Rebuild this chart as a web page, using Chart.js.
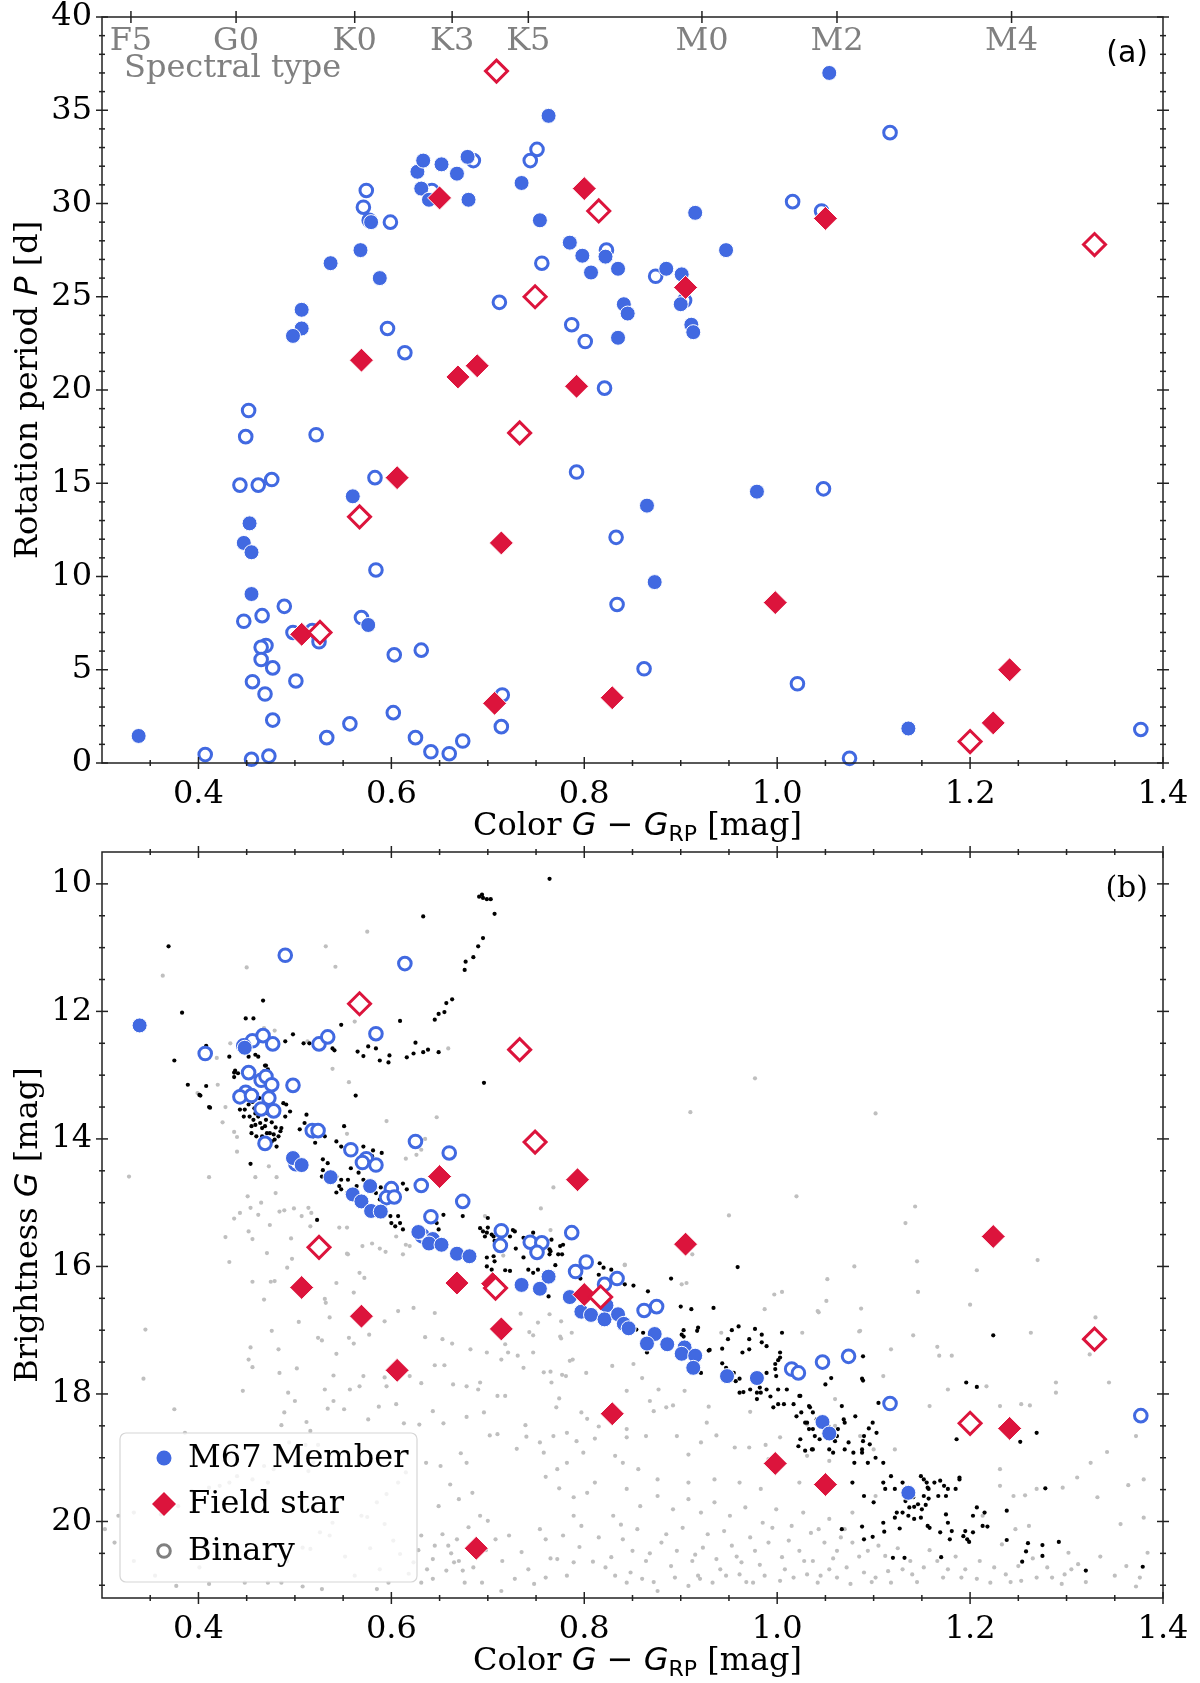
<!DOCTYPE html>
<html>
<head>
<meta charset="utf-8">
<script src="https://cdn.jsdelivr.net/npm/chart.js@4"></script>
<style>
  html, body { margin: 0; padding: 0; background: #fff; }
  #wrap { position: relative; width: 1200px; height: 1683px; }
  canvas { position: absolute; left: 0; }
  #rotChart { top: 0; }
  #cmdChart { top: 845px; }
</style>
</head>
<body>
<div id="wrap">
  <canvas id="rotChart" width="1200" height="845"></canvas>
  <canvas id="cmdChart" width="1200" height="838"></canvas>
</div>
<script>
// ---- axis ticks / labels ----
const colorTicks  = [0.4, 0.6, 0.8, 1.0, 1.2, 1.4];
const periodTicks = [0, 5, 10, 15, 20, 25, 30, 35, 40];
const magTicks    = [10, 12, 14, 16, 18, 20];
const spectralTypes  = ['F5', 'G0', 'K0', 'K3', 'K5', 'M0', 'M2', 'M4'];
const spectralColors = [0.330, 0.439, 0.562, 0.663, 0.742, 0.922, 1.062, 1.243];
const legendLabels = ['M67 Member', 'Field star', 'Binary'];

// ---- panel (a): colour vs rotation period ----
const rotMember = [
  [0.338,1.45],[1.054,37.0],[0.763,34.7],[0.627,31.7],[0.633,32.3],[0.652,32.1],[0.668,31.6],
  [0.679,32.5],[0.680,30.2],[0.631,30.8],[0.639,30.2],[0.735,31.1],[0.754,29.1],[0.579,29.0],
  [0.568,27.5],[0.537,26.8],[0.588,26.0],[0.507,24.3],[0.507,23.3],[0.498,22.9],[0.785,27.9],
  [0.798,27.2],[0.807,26.3],[0.822,27.15],[0.835,26.5],[0.885,26.5],[0.901,26.2],[0.900,24.6],
  [0.841,24.6],[0.845,24.1],[0.911,23.5],[0.913,23.1],[0.835,22.8],[0.915,29.5],[0.947,27.5],
  [0.560,14.3],[0.453,12.85],[0.447,11.8],[0.455,11.3],[0.455,9.06],[0.576,7.4],[0.865,13.8],
  [0.979,14.55],[0.873,9.7],[1.136,1.85]
];
const rotBinary = [
  [0.685,32.3],[0.642,30.7],[0.744,32.3],[0.751,32.9],[0.756,26.8],[0.712,24.7],[0.574,30.7],
  [0.571,29.8],[0.577,29.1],[0.599,29.0],[0.596,23.3],[0.614,22.0],[0.821,20.1],[0.452,18.9],
  [0.787,23.5],[0.801,22.6],[1.117,33.8],[1.016,30.1],[1.046,29.6],[0.823,27.5],[0.874,26.1],
  [0.904,24.8],[0.449,17.5],[0.522,17.6],[0.443,14.9],[0.462,14.9],[0.476,15.2],[0.583,15.3],
  [0.792,15.6],[0.584,10.35],[0.489,8.4],[0.466,7.9],[0.447,7.6],[0.569,7.8],[0.498,7.0],
  [0.518,7.1],[0.525,6.5],[0.470,6.3],[0.465,6.2],[0.465,5.55],[0.477,5.1],[0.603,5.8],
  [0.631,6.05],[0.456,4.36],[0.501,4.4],[0.469,3.7],[0.715,3.65],[0.477,2.3],[0.602,2.7],
  [0.714,1.95],[0.557,2.1],[0.533,1.36],[0.625,1.36],[0.674,1.18],[0.641,0.6],[0.660,0.5],
  [0.407,0.45],[0.455,0.2],[0.473,0.37],[0.833,12.1],[1.048,14.7],[0.834,8.5],[0.862,5.05],
  [1.021,4.25],[1.075,0.25],[1.377,1.8]
];
const rotField = [
  [0.650,30.3],[0.800,30.8],[1.050,29.2],[0.905,25.5],[0.569,21.6],[0.669,20.7],[0.689,21.3],
  [0.792,20.2],[0.606,15.3],[0.714,11.8],[0.507,6.9],[0.707,3.2],[0.998,8.6],[0.829,3.5],
  [1.241,5.0],[1.224,2.15]
];
const rotFieldBinary = [
  [0.709,37.1],[0.749,25.0],[0.815,29.6],[1.329,27.8],[0.733,17.7],[0.567,13.2],[0.526,7.0],[1.200,1.15]
];

// ---- panel (b): colour vs G magnitude ----
const cmdMember = [
  [0.339,12.22],[0.448,12.57],[0.498,14.30],[0.507,14.41],[0.537,14.60],[0.560,14.87],[0.569,14.98],
  [0.578,14.74],[0.579,15.13],[0.589,15.14],[0.628,15.46],[0.643,15.57],[0.639,15.64],[0.652,15.66],
  [0.668,15.80],[0.681,15.84],[0.735,16.29],[0.754,16.35],[0.763,16.16],[0.785,16.48],[0.823,16.61],
  [0.797,16.71],[0.807,16.76],[0.821,16.83],[0.835,16.75],[0.841,16.90],[0.846,16.97],[0.873,17.06],
  [0.865,17.21],[0.886,17.22],[0.904,17.27],[0.901,17.37],[0.915,17.40],[0.913,17.59],[0.948,17.72],
  [0.979,17.75],[1.047,18.44],[1.054,18.62],[1.136,19.55]
];
const cmdBinary = [
  [0.490,11.12],[0.614,11.25],[0.407,12.66],[0.456,12.46],[0.467,12.38],[0.477,12.51],[0.447,12.54],
  [0.525,12.51],[0.534,12.40],[0.584,12.35],[0.452,12.96],[0.465,13.08],[0.470,13.02],[0.476,13.15],
  [0.498,13.16],[0.449,13.27],[0.443,13.34],[0.455,13.32],[0.473,13.36],[0.465,13.53],[0.478,13.56],
  [0.518,13.87],[0.524,13.87],[0.469,14.07],[0.501,14.39],[0.558,14.17],[0.574,14.31],[0.570,14.37],
  [0.584,14.41],[0.625,14.04],[0.660,14.22],[0.600,14.78],[0.595,14.92],[0.603,14.91],[0.631,14.73],
  [0.674,14.98],[0.641,15.22],[0.632,15.52],[0.714,15.44],[0.713,15.67],[0.744,15.62],[0.756,15.63],
  [0.751,15.78],[0.787,15.47],[0.802,15.93],[0.791,16.08],[0.834,16.19],[0.821,16.28],[0.862,16.69],
  [0.875,16.63],[1.015,17.61],[1.022,17.67],[1.047,17.50],[1.074,17.41],[1.377,18.34],[1.117,18.15]
];
const cmdField = [
  [0.650,14.59],[0.793,14.64],[0.905,15.65],[1.224,15.53],[0.507,16.33],[0.668,16.26],[0.705,16.27],
  [0.569,16.78],[0.714,16.98],[0.800,16.44],[0.606,17.63],[0.829,18.31],[0.998,19.09],[1.050,19.42],
  [1.241,18.54],[0.688,20.42]
];
const cmdFieldBinary = [
  [0.567,11.88],[0.733,12.60],[0.749,14.05],[0.525,15.70],[0.708,16.34],[0.817,16.48],[1.200,18.46],[1.329,17.14]
];
// M67 members without a measured period (black)
const clusterStars = [
  [0.369,10.98],[0.383,12.02],[0.375,12.77],[0.389,13.15],[0.408,13.17],[0.402,13.32],[0.412,13.51],
  [0.467,11.83],[0.449,12.11],[0.457,12.11],[0.490,12.47],[0.498,12.36],[0.509,12.50],[0.515,12.50],
  [0.539,12.58],[0.541,12.61],[0.548,12.21],[0.565,12.63],[0.571,12.70],[0.576,12.55],[0.584,12.58],
  [0.588,12.77],[0.597,12.80],[0.598,12.69],[0.609,12.15],[0.616,12.72],[0.623,12.66],[0.633,12.64],
  [0.638,12.60],[0.649,12.64],[0.625,12.49],[0.645,12.13],[0.649,12.04],[0.655,12.01],[0.657,11.87],
  [0.663,11.81],[0.676,11.35],[0.677,11.22],[0.685,11.15],[0.690,10.98],[0.695,10.85],[0.707,10.47],
  [0.691,10.20],[0.695,10.22],[0.699,10.24],[0.703,10.24],[0.694,10.17],[0.764,9.92],[0.633,10.51],
  [0.696,13.12],[0.563,13.32],[0.408,12.54],[0.432,12.71],[0.437,12.96],[0.438,12.93],[0.441,12.97],
  [0.437,13.03],[0.469,12.85],[0.452,12.71],[0.459,12.68],[0.462,12.71],[0.470,12.85],[0.472,12.91],
  [0.468,12.94],[0.401,13.31],[0.411,13.50],
  [0.448,13.54],[0.453,13.65],[0.457,13.70],[0.459,13.78],[0.464,13.75],[0.466,13.83],[0.469,13.80],
  [0.471,13.91],[0.474,13.91],[0.478,13.93],[0.479,14.01],[0.483,13.96],[0.485,13.88],[0.486,13.83],
  [0.490,13.65],[0.495,13.57],[0.491,13.46],[0.488,13.44],[0.455,13.91],[0.460,13.96],[0.466,13.96],
  [0.481,14.12],[0.476,14.04],[0.459,13.60],[0.462,13.65],[0.455,13.80],[0.443,13.54],[0.447,13.65],
  [0.452,13.46],[0.446,13.30],[0.451,13.38],[0.456,13.42],[0.463,13.36],[0.468,13.48],[0.472,13.60],
  [0.476,13.74],[0.480,13.82],[0.470,13.70],[0.458,13.52],
  [0.512,13.62],[0.510,13.75],[0.505,13.85],[0.519,13.96],[0.521,14.06],[0.531,13.96],[0.543,14.04],
  [0.548,14.12],[0.551,13.80],[0.571,14.12],[0.580,14.27],[0.581,14.18],[0.590,14.22],[0.529,14.32],
  [0.534,14.38],[0.529,14.49],[0.528,14.59],[0.543,14.59],[0.548,14.64],[0.555,14.64],[0.558,14.46],
  [0.566,14.53],[0.546,14.74],[0.548,14.79],[0.543,14.84],[0.554,14.85],[0.564,14.74],[0.571,14.64],
  [0.584,14.85],[0.588,14.95],[0.599,15.21],[0.600,15.32],[0.604,15.37],[0.607,15.21],[0.609,15.32],
  [0.612,15.42],[0.589,14.76],[0.595,14.79],[0.616,14.79],[0.612,14.70],[0.654,15.19],[0.674,15.21],
  [0.692,15.40],[0.697,15.53],[0.699,15.47],[0.706,15.53],[0.723,15.53],[0.728,15.45],[0.737,15.55],
  [0.747,15.47],[0.759,15.66],[0.766,15.58],[0.775,15.68],[0.778,15.66],[0.523,15.27],[0.647,15.32],
  [0.649,15.42],[0.700,15.24],[0.749,15.81],[0.765,15.76],[0.777,15.81],[0.454,14.39],[0.700,15.39],
  [0.695,15.45],[0.704,15.50],[0.707,15.60],[0.726,15.43],[0.729,15.72],[0.746,15.54],[0.752,15.64],
  [0.764,15.73],[0.764,15.81],[0.773,15.81],[0.699,15.86],[0.706,15.84],[0.707,15.92],[0.699,16.00],
  [0.704,16.05],[0.718,16.06],[0.723,16.07],[0.737,15.86],[0.742,16.05],[0.752,16.05],[0.770,15.98],
  [0.796,16.19],[0.815,16.13],[0.816,15.95],[0.820,16.02],[0.828,16.05],[0.851,16.30],[0.842,16.28],
  [0.866,16.39],[0.890,16.19],[0.900,16.63],[0.911,16.67],[0.934,16.65],[0.959,16.01],[0.763,16.47],
  [0.758,16.33],[0.747,16.10],[0.854,16.99],[0.861,17.04],[0.865,17.35],[0.901,17.07],[0.903,17.00],
  [0.917,17.01],[0.918,16.96],[0.930,17.31],[0.949,17.14],[0.953,17.00],[0.960,16.94],[0.971,17.14],
  [0.977,16.98],[0.984,17.07],[0.984,17.19],[1.005,17.04],[0.989,17.25],[1.003,17.35],[0.998,17.53],
  [1.001,17.47],[0.998,17.61],[0.999,17.72],[0.943,17.52],[0.945,17.67],[0.955,17.67],[0.957,17.80],
  [0.964,17.35],[0.961,17.98],[0.972,17.93],[0.979,17.98],[0.982,17.90],[0.979,18.08],[0.989,17.93],
  [0.993,18.04],[1.001,17.93],[1.010,17.93],[0.996,18.21],[1.001,18.16],[1.007,18.16],[1.017,18.16],
  [1.020,18.35],[1.024,18.03],[1.025,18.29],[1.029,18.45],[1.034,18.21],[1.037,18.29],[1.041,18.40],
  [1.037,18.55],[1.044,18.71],[1.053,18.50],[1.063,18.55],[1.069,18.40],[1.067,18.19],[1.081,18.35],
  [1.074,18.76],[1.079,18.92],[1.089,18.74],[1.088,18.87],[1.095,18.54],[1.103,18.61],[1.105,18.14],
  [1.089,17.79],[1.024,18.71],[1.022,18.82],[1.029,18.89],[1.036,18.87],[1.058,18.92],[1.089,17.41],
  [0.989,17.67],[0.947,17.59],[0.961,17.76],[0.965,17.97],[0.983,17.98],[1.023,18.03],[1.033,18.19],
  [1.050,17.85],[1.056,17.75],[1.070,18.45],[1.088,17.76],[1.003,17.43],[0.971,17.30],[0.943,17.29],
  [0.929,17.32],[0.921,17.67],[0.902,17.35],[0.903,17.10],
  [1.099,18.45],[1.090,18.66],[1.096,18.79],[1.102,19.00],[1.088,18.92],[1.094,19.08],[1.110,19.08],
  [1.118,19.29],[1.110,19.39],[1.112,19.49],[1.122,19.49],[1.130,19.39],[1.080,19.08],[1.070,18.87],
  [1.060,18.74],[1.078,19.39],[1.090,19.60],[1.100,19.70],[1.031,18.45],[1.033,18.55],[1.037,18.87],
  [1.039,18.66],[1.054,18.87],[1.062,18.66],
  [1.224,17.08],[1.196,17.82],[1.207,17.89],[1.186,18.71],[1.189,19.31],[1.185,19.49],[1.269,18.61],
  [1.278,19.48],[1.252,18.75],[1.238,20.29],[1.260,20.34],[1.258,20.47],[1.254,20.63],[1.275,20.37],
  [1.275,20.54],[1.292,20.32],[1.320,20.77],[1.379,20.71],[1.238,19.83],[1.215,19.86],[1.207,19.78],
  [1.203,19.91],[1.195,20.15],[1.203,20.17],[1.197,20.28],[1.199,20.32],[1.213,20.07],[1.218,20.08],
  [1.193,20.23],[1.175,19.89],[1.177,20.02],[1.181,20.15],[1.179,20.28],[1.169,20.17],[1.170,20.56],
  [1.156,20.07],[1.158,20.10],[1.149,19.94],[1.150,19.81],[1.154,19.74],[1.157,19.64],[1.152,19.60],
  [1.146,19.73],[1.142,19.77],[1.141,19.62],[1.133,19.68],[1.130,19.86],[1.136,19.91],[1.142,19.96],
  [1.137,19.78],[1.124,19.86],[1.122,19.94],[1.127,20.11],[1.132,20.57],[1.120,20.57],[1.111,20.16],
  [1.110,20.02],[1.099,20.24],[1.090,20.28],[1.088,20.08],[1.067,20.12],[1.156,19.47],[1.163,19.39],
  [1.169,19.36],[1.173,19.44],[1.177,19.49],[1.175,19.60],[1.167,19.60],[1.157,19.49],[1.189,19.34],
  [1.149,19.29],[1.152,19.34],[1.155,19.39]
];
// field stars in the same area (grey)
const fieldStars = [
  [0.363,11.44],[0.450,11.31],[0.532,10.98],[0.542,11.30],[0.575,10.75],[0.562,12.16],[0.539,12.90],
  [0.556,13.11],[0.659,12.58],[0.647,13.66],[0.595,13.72],[0.554,13.92],[0.420,13.15],[0.428,13.50],
  [0.425,13.74],[0.437,13.89],[0.440,13.97],[0.440,14.20],[0.411,14.60],[0.459,14.60],[0.473,14.43],
  [0.481,14.60],[0.480,14.85],[0.465,15.00],[0.437,15.25],[0.443,15.16],[0.484,15.14],[0.489,15.12],
  [0.499,15.09],[0.474,15.35],[0.452,15.45],[0.456,15.57],[0.428,15.54],[0.514,15.08],[0.517,15.16],
  [0.496,15.56],[0.546,15.39],[0.554,15.39],[0.554,15.80],[0.570,15.68],[0.580,15.64],[0.588,15.72],
  [0.594,15.77],[0.615,14.31],[0.626,14.25],[0.635,14.00],[0.615,15.66],[0.605,15.53],[0.612,15.81],
  [0.697,15.21],[0.755,15.09],[0.765,15.43],[0.768,14.76],[0.737,15.85],[0.451,14.90],[0.454,15.08],
  [0.462,15.19],[0.399,13.28],[0.468,12.26],[0.479,12.30],[0.419,12.73],[0.433,12.50],[0.513,12.47],
  [0.977,13.05],[0.910,13.58],[1.102,13.60],[1.143,15.06],[1.133,15.32],[0.912,15.81],[0.328,14.59],
  [0.345,16.99],[0.631,14.17],[0.471,15.79],[0.507,15.21],[0.516,15.37],[0.619,15.68],[0.716,15.83],
  [0.842,15.98],[0.901,16.28],[0.997,16.44],[1.005,16.40],[1.052,16.20],[1.051,16.54],[1.087,16.66],
  [1.085,17.02],[1.043,16.72],[1.026,17.04],[0.987,16.67],[0.942,17.04],[0.734,16.74],[0.764,16.75],
  [0.747,17.08],[0.775,17.10],[0.699,17.35],[0.721,17.35],[0.785,17.48],[0.737,17.59],[0.765,17.65],
  [0.802,17.67],[0.829,17.56],[0.851,17.53],[0.860,17.75],[0.781,17.72],[0.710,18.03],[0.774,18.07],
  [0.803,18.39],[0.771,18.21],[0.815,18.51],[0.844,17.95],[0.872,18.27],[0.885,18.21],[0.892,18.18],
  [0.904,17.95],[0.929,18.20],[0.937,18.65],[0.956,18.84],[0.972,18.28],[0.988,18.80],[1.003,18.68],
  [1.031,18.48],[1.060,18.08],[1.060,18.50],[1.100,18.87],[1.086,18.66],[0.702,18.65],[0.740,18.67],
  [0.768,18.66],[0.811,18.70],[0.844,18.68],[0.908,18.95],[0.832,18.97],[0.792,18.74],[0.758,18.92],
  [0.730,18.86],[0.692,17.82],[0.877,17.93],
  [0.432,15.93],[0.456,16.24],[0.468,16.52],[0.475,16.24],[0.479,16.23],[0.492,16.02],[0.497,15.88],
  [0.504,16.87],[0.476,17.01],[0.483,17.30],[0.456,17.58],[0.446,17.95],[0.452,17.46],[0.454,17.27],
  [0.484,17.67],[0.493,17.98],[0.502,17.60],[0.500,18.11],[0.489,18.29],[0.486,18.49],[0.512,18.44],
  [0.516,18.58],[0.494,18.76],[0.511,18.80],[0.524,18.80],[0.519,19.08],[0.534,19.00],[0.534,18.23],
  [0.540,18.11],[0.531,17.93],[0.540,17.71],[0.543,17.37],[0.528,17.16],[0.524,17.12],[0.536,16.80],
  [0.532,16.57],[0.531,16.51],[0.543,16.26],[0.555,15.81],[0.567,16.10],[0.572,16.18],[0.561,16.41],
  [0.556,17.12],[0.561,17.21],[0.577,17.07],[0.593,16.86],[0.607,16.70],[0.623,16.65],[0.645,16.73],
  [0.653,17.14],[0.635,17.11],[0.663,17.21],[0.682,17.30],[0.714,17.46],[0.718,17.22],[0.731,17.40],
  [0.747,17.35],[0.758,17.66],[0.766,17.82],[0.777,17.70],[0.788,17.46],[0.776,17.13],[0.743,17.03],
  [0.752,16.88],[0.776,16.86],[0.787,17.04],[0.718,18.03],[0.690,17.93],[0.678,17.88],[0.664,17.85],
  [0.655,17.55],[0.645,17.55],[0.631,17.83],[0.619,17.72],[0.595,17.88],[0.593,17.74],[0.571,17.72],
  [0.567,17.88],[0.557,17.93],[0.551,18.24],[0.576,18.40],[0.587,18.20],[0.605,18.16],[0.613,18.46],
  [0.629,18.48],[0.643,18.27],[0.654,18.46],[0.678,18.36],[0.696,18.29],[0.710,18.63],[0.739,18.49],
  [0.754,18.76],[0.782,18.61],[0.797,18.29],[0.799,18.92],[0.782,19.08],[0.772,19.18],[0.760,19.30],
  [0.774,19.48],[0.789,19.62],[0.803,19.55],[0.811,19.39],[0.789,19.91],[0.797,20.07],[0.778,20.22],
  [0.760,20.28],[0.754,20.12],[0.772,20.59],[0.789,20.64],[0.809,20.63],[0.760,20.88],[0.742,20.75],
  [0.722,20.22],[0.708,20.28],[0.714,21.09],[0.694,20.96],[0.700,19.99],[0.692,19.91],[0.676,20.96],
  [0.674,20.77],[0.670,20.62],[0.668,20.28],[0.680,20.09],[0.670,19.65],[0.684,19.55],[0.649,19.76],
  [0.645,20.38],[0.653,20.20],[0.659,20.38],[0.631,20.22],[0.643,20.59],[0.623,20.64],[0.609,20.51],
  [0.593,20.04],[0.569,19.91],[0.595,19.57],[0.615,19.23],[0.636,19.08],[0.651,19.13],[0.672,18.93],
  [0.678,19.08],[0.661,19.42],[0.607,19.39],[0.585,19.70],[0.575,19.93],[0.543,19.81],[0.539,20.02],
  [0.536,20.22],[0.526,20.17],[0.516,20.43],[0.508,20.41],[0.492,20.62],[0.486,20.96],[0.528,21.06],
  [0.508,21.02],[0.472,20.96],[0.448,20.96],[0.411,20.98],[0.401,20.72],[0.377,21.01],[0.355,20.85],
  [0.333,20.62],[0.313,20.33],[0.303,20.12],[0.317,19.91],[0.333,19.86],[0.361,19.89],[0.379,19.76],
  [0.393,19.52],[0.411,19.47],[0.422,19.44],[0.432,19.39],[0.440,19.29],[0.456,19.34],[0.478,19.18],
  [0.472,19.39],[0.468,19.13],[0.488,18.95],[0.502,19.08],[0.514,19.21],[0.597,20.96],[0.585,21.06],
  [0.631,20.96],[0.643,20.90],[0.657,20.77],[0.665,20.64],[0.343,17.76],[0.375,18.24],[0.386,18.61],
  [0.842,15.97],[0.906,16.26],[1.042,16.70],[1.145,15.92],[1.207,16.06],[1.146,16.40],[1.086,17.01],
  [1.141,17.08],[1.166,17.26],[1.181,17.40],[1.263,17.04],[1.324,17.38],[1.289,17.82],[1.289,17.98],
  [1.253,18.16],[1.262,18.18],[1.325,19.08],[1.342,18.91],[1.364,19.43],[1.380,19.34],[1.380,19.94],
  [1.356,20.04],[1.332,19.62],[1.311,19.31],[1.296,19.47],[1.269,19.49],[1.257,19.59],[1.245,19.60],
  [1.231,19.44],[1.231,19.18],[1.213,19.91],[1.233,20.36],[1.247,20.12],[1.261,20.07],[1.302,20.49],
  [1.312,20.67],[1.298,20.83],[1.285,20.88],[1.269,20.88],[1.253,20.93],[1.237,20.83],[1.221,20.96],
  [1.207,20.90],[1.191,20.88],[1.177,20.75],[1.166,20.62],[1.152,20.72],[1.140,20.83],[1.130,20.75],
  [1.118,20.96],[1.102,20.88],[1.090,20.80],[1.076,20.98],[1.062,20.88],[1.054,20.75],[1.042,20.96],
  [1.031,20.83],[1.017,20.88],[1.003,20.93],[0.987,20.85],[0.975,20.96],[0.961,20.83],[0.947,20.85],
  [0.933,20.96],[0.920,20.90],[0.908,21.01],[0.894,20.88],[0.876,21.09],[0.860,20.90],[0.844,20.96],
  [0.832,20.85],[1.112,20.54],[1.094,20.46],[1.078,20.33],[1.062,20.46],[1.049,20.33],[1.037,20.62],
  [1.023,20.46],[1.005,20.56],[0.991,20.33],[0.977,20.46],[0.963,20.64],[0.953,20.38],[0.937,20.59],
  [0.923,20.41],[0.912,20.62],[0.896,20.46],[0.880,20.33],[0.864,20.62],[0.850,20.46],[0.840,20.28],
  [0.828,20.56],[1.070,20.12],[1.054,19.96],[1.043,20.12],[1.027,19.86],[1.015,20.07],[0.999,19.81],
  [0.985,20.02],[0.967,19.78],[0.951,19.91],[0.935,19.70],[0.921,19.86],[0.908,19.65],[0.892,19.81],
  [0.876,19.60],[0.858,19.76],[0.844,19.49],[0.830,19.91],[0.840,19.08],[0.856,19.18],[0.876,19.34],
  [0.908,19.39],[0.935,19.34],[0.961,19.39],[0.983,19.49],[1.023,19.39],[1.031,18.97],[1.054,19.05],
  [1.094,19.08],[1.122,18.87],[1.102,19.60],[1.078,19.86],[0.921,18.76],[0.896,18.66],[0.864,18.66],
  [0.844,18.55],[0.868,18.11],[0.927,18.45],[0.971,18.84],[0.991,19.02],[1.158,18.19],[1.177,17.93],
  [1.217,17.88],[1.231,18.19],[1.344,17.82],[1.372,18.66],[1.384,20.49],[1.376,20.88],[1.118,18.19],
  [1.168,17.40],[1.118,17.30],[1.110,17.72],[0.950,15.20],[1.020,14.90],[1.270,15.90],[1.080,16.00],
  [1.200,16.60],[1.330,16.80],
  [0.815,20.25],[0.822,20.72],[0.838,20.05],[0.848,20.80],[0.855,20.12],[0.868,20.50],[0.872,20.95],
  [0.885,20.20],[0.890,20.70],[0.902,20.10],[0.915,20.52],[0.918,20.85],[0.928,20.20],[0.941,20.75],
  [0.945,20.15],[0.958,20.55],[0.968,20.95],[0.972,20.25],[0.982,20.68],[0.995,20.10],[1.008,20.75],
  [1.012,20.30],[1.028,20.62],[1.035,20.18],[1.045,20.85],[1.058,20.58],[1.066,20.25],[1.072,20.72],
  [1.085,20.55],[1.098,20.95],[1.105,20.38],[1.115,20.78],[1.125,20.42],[1.138,20.62],[1.145,20.95],
  [1.158,20.45],[1.172,20.88],[1.185,20.55],[1.195,20.75],[1.210,20.62],[1.225,20.72],[1.242,20.95],
  [1.250,20.70],[1.265,20.58],[1.280,20.72],[1.295,20.98],[1.305,20.75],[1.320,20.95],[1.335,20.55],
  [1.350,20.85],[1.362,20.70],[1.372,21.02],
  [0.552,20.55],[0.562,20.85],[0.578,20.42],[0.588,20.75],[0.602,20.30],[0.618,20.82],[0.628,20.45],
  [0.637,20.75],[0.662,20.50],[0.685,20.72],[0.698,20.45],[0.715,20.62],[0.728,20.90],[0.735,20.48],
  [0.748,20.98],[0.765,20.58],[0.782,20.85],[0.795,20.40]
];

// ---- styling ----
const BLUE = '#4169E1', RED = '#DC143C', SERIF = '"DejaVu Serif"', SANS = '"DejaVu Sans"';
const tickFont = { family: SERIF, size: 32, lineHeight: 1.2 };
const toXY = pairs => pairs.map(([x, y]) => ({ x, y }));

function minorBetween(lo, hi, step, majors) {
  const out = [];
  for (let v = lo; v <= hi + 1e-9; v += step) {
    const r = Math.round(v * 1000) / 1000;
    if (!majors.some(m => Math.abs(m - r) < 1e-6)) out.push(r);
  }
  return out;
}
const colorMinor  = minorBetween(0.35, 1.35, 0.05, colorTicks);
const periodMinor = minorBetween(1, 39, 1, periodTicks);
const magMinor    = minorBetween(10.5, 21, 0.5, magTicks);

// draw text made of several font runs (italic G, subscript RP ...)
function richText(ctx, parts, x, y, rotate) {
  ctx.save();
  ctx.translate(x, y);
  if (rotate) ctx.rotate(-Math.PI / 2);
  ctx.textAlign = 'left';
  ctx.textBaseline = 'alphabetic';
  ctx.fillStyle = '#000';
  let total = 0;
  parts.forEach(p => { ctx.font = p.font; p.w = ctx.measureText(p.text).width; total += p.w; });
  let cx = -total / 2;
  parts.forEach(p => { ctx.font = p.font; ctx.fillText(p.text, cx, p.dy || 0); cx += p.w; });
  ctx.restore();
}
const TS = 32;
const serifF = `${TS}px ${SERIF}`, mathF = `italic ${TS}px ${SANS}`, sansF = `${TS}px ${SANS}`, subF = `${Math.round(TS * 0.7)}px ${SANS}`;
const colorTitle = [
  { text: 'Color ', font: serifF }, { text: 'G', font: mathF }, { text: ' \u2212 ', font: sansF },
  { text: 'G', font: mathF }, { text: 'RP', font: subF, dy: 6 }, { text: ' [mag]', font: serifF }
];
const periodTitle = [
  { text: 'Rotation period ', font: serifF }, { text: 'P', font: mathF }, { text: ' [d]', font: serifF }
];
const magTitle = [
  { text: 'Brightness ', font: serifF }, { text: 'G', font: mathF }, { text: ' [mag]', font: serifF }
];

// frame, in-out ticks, titles and panel decorations
const decoPlugin = {
  id: 'deco',
  afterDatasetsDraw(chart, args, o) {
    const { ctx, chartArea: a, scales: { x, y } } = chart;
    ctx.save();
    ctx.strokeStyle = '#222';
    ctx.lineWidth = 1.5;
    ctx.strokeRect(a.left, a.top, a.right - a.left, a.bottom - a.top);
    const seg = (x0, y0, x1, y1) => { ctx.beginPath(); ctx.moveTo(x0, y0); ctx.lineTo(x1, y1); ctx.stroke(); };
    const xt = (vals, len, top, bottom) => vals.forEach(v => {
      const p = x.getPixelForValue(v);
      if (bottom) seg(p, a.bottom - len, p, a.bottom + len);
      if (top) seg(p, a.top - len, p, a.top + len);
    });
    const yt = (vals, len) => vals.forEach(v => {
      const p = y.getPixelForValue(v);
      seg(a.left - len, p, a.left + len, p);
      seg(a.right - len, p, a.right + len, p);
    });
    xt(colorTicks, 6, o.colorTop, true);
    xt(colorMinor, 3, o.colorTop, true);
    yt(o.yMajor, 6);
    yt(o.yMinor, 3);
    if (o.spectral) {
      xt(spectralColors, 6, true, false);
      ctx.fillStyle = '#808080';
      ctx.font = `32px ${SERIF}`;
      ctx.textAlign = 'center';
      ctx.textBaseline = 'alphabetic';
      spectralTypes.forEach((t, i) => ctx.fillText(t, x.getPixelForValue(spectralColors[i]), a.top + 33));
      ctx.textAlign = 'left';
      ctx.fillText('Spectral type', 124, a.top + 60);
    }
    ctx.fillStyle = '#000';
    ctx.textAlign = 'right';
    ctx.textBaseline = 'alphabetic';
    ctx.font = o.panelFont;
    ctx.fillText(o.panel, a.right - 15, a.top + 45);
    richText(ctx, colorTitle, (a.left + a.right) / 2 + 5, o.xTitleY, false);
    richText(ctx, o.yTitle, 37, (a.top + a.bottom) / 2, true);
    if (o.legend) drawLegend(ctx);
    ctx.restore();
  }
};

function drawLegend(ctx) {
  const bx = 120, by = 588, bw = 297, bh = 149, r = 6;
  ctx.save();
  ctx.beginPath();
  ctx.roundRect(bx, by, bw, bh, r);
  ctx.fillStyle = 'rgba(255,255,255,0.8)';
  ctx.fill();
  ctx.strokeStyle = '#d6d6d6';
  ctx.lineWidth = 1.2;
  ctx.stroke();
  const rows = [by + 25, by + 71, by + 118];
  const mx = 164;
  ctx.beginPath(); ctx.arc(mx, rows[0], 7.5, 0, Math.PI * 2); ctx.fillStyle = BLUE; ctx.fill();
  ctx.beginPath();
  ctx.moveTo(mx - 12, rows[1]); ctx.lineTo(mx, rows[1] - 12); ctx.lineTo(mx + 12, rows[1]); ctx.lineTo(mx, rows[1] + 12);
  ctx.closePath(); ctx.fillStyle = RED; ctx.fill();
  ctx.beginPath(); ctx.arc(mx, rows[2], 6.3, 0, Math.PI * 2);
  ctx.fillStyle = '#fff'; ctx.fill(); ctx.strokeStyle = '#808080'; ctx.lineWidth = 3; ctx.stroke();
  ctx.fillStyle = '#000';
  ctx.font = `32px ${SERIF}`;
  ctx.textAlign = 'left';
  ctx.textBaseline = 'middle';
  legendLabels.forEach((t, i) => ctx.fillText(t, 188, rows[i] + 1));
  ctx.restore();
}

const memberStyle   = { pointStyle: 'circle', pointRadius: 7.5, pointBackgroundColor: BLUE, pointBorderColor: '#fff', pointBorderWidth: 1 };
const binaryStyle   = { pointStyle: 'circle', pointRadius: 6.3, pointBackgroundColor: '#fff', pointBorderColor: BLUE, pointBorderWidth: 3 };
const fieldStyle    = { pointStyle: 'rectRot', pointRadius: 12, pointBackgroundColor: RED, pointBorderColor: '#fff', pointBorderWidth: 1 };
const fieldBinStyle = { pointStyle: 'rectRot', pointRadius: 11, pointBackgroundColor: '#fff', pointBorderColor: RED, pointBorderWidth: 3 };

function scaleX(height) {
  return {
    type: 'linear', position: 'bottom', min: 0.3, max: 1.4,
    grid: { display: false, drawTicks: false }, border: { display: false },
    ticks: { font: tickFont, color: '#000', padding: 12, autoSkip: false, maxRotation: 0, callback: v => v.toFixed(1) },
    afterBuildTicks: s => { s.ticks = colorTicks.map(v => ({ value: v })); },
    afterFit: s => { s.height = height; s.paddingLeft = 0; s.paddingRight = 0; }
  };
}
function scaleY(min, max, ticks, reverse) {
  return {
    type: 'linear', min, max, reverse,
    grid: { display: false, drawTicks: false }, border: { display: false },
    ticks: { font: tickFont, color: '#000', padding: 10, autoSkip: false, callback: v => String(v) },
    afterBuildTicks: s => { s.ticks = ticks.map(v => ({ value: v })); },
    afterFit: s => { s.width = 102; s.paddingTop = 0; s.paddingBottom = 0; }
  };
}
const common = {
  responsive: false, animation: false, events: [],
  plugins: { legend: { display: false }, tooltip: { enabled: false } }
};

new Chart(document.getElementById('rotChart'), {
  type: 'scatter',
  data: {
    datasets: [
      { data: toXY(rotFieldBinary), ...fieldBinStyle, order: 1, clip: false },
      { data: toXY(rotField), ...fieldStyle, order: 2, clip: false },
      { data: toXY(rotMember), ...memberStyle, order: 3, clip: false },
      { data: toXY(rotBinary), ...binaryStyle, order: 4, clip: false }
    ]
  },
  options: {
    ...common,
    layout: { autoPadding: false, padding: { top: 17, right: 37, left: 0, bottom: 0 } },
    scales: { x: scaleX(82), y: scaleY(0, 40, periodTicks, false) },
    plugins: {
      ...common.plugins,
      deco: { yMajor: periodTicks, yMinor: periodMinor, colorTop: false, spectral: true,
              panel: '(a)', panelFont: `30px ${SANS}`, xTitleY: 835, yTitle: periodTitle }
    }
  },
  plugins: [decoPlugin]
});

new Chart(document.getElementById('cmdChart'), {
  type: 'scatter',
  data: {
    datasets: [
      { data: toXY(cmdFieldBinary), ...fieldBinStyle, order: 1, clip: false },
      { data: toXY(cmdField), ...fieldStyle, order: 2, clip: false },
      { data: toXY(cmdMember), ...memberStyle, order: 3, clip: false },
      { data: toXY(cmdBinary), ...binaryStyle, order: 4, clip: false },
      { data: toXY(clusterStars), pointRadius: 2.1, pointBackgroundColor: '#000', pointBorderWidth: 0, order: 5 },
      { data: toXY(fieldStars), pointRadius: 2.1, pointBackgroundColor: '#bfbfbf', pointBorderWidth: 0, order: 6 }
    ]
  },
  options: {
    ...common,
    layout: { autoPadding: false, padding: { top: 7, right: 37, left: 0, bottom: 0 } },
    scales: { x: scaleX(85), y: scaleY(9.5, 21.2, magTicks, true) },
    plugins: {
      ...common.plugins,
      deco: { yMajor: magTicks, yMinor: magMinor, colorTop: true, spectral: false, legend: true,
              panel: '(b)', panelFont: `30px ${SERIF}`, xTitleY: 825, yTitle: magTitle }
    }
  },
  plugins: [decoPlugin]
});
</script>
</body>
</html>
